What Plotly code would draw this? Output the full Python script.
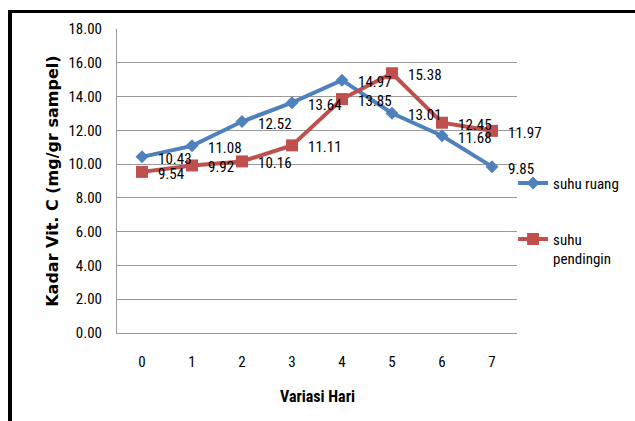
import plotly.graph_objects as go

# Vitamin C content per storage day
hari = ["0", "1", "2", "3", "4", "5", "6", "7"]
suhu_ruang = [10.43, 11.08, 12.52, 13.64, 14.97, 13.01, 11.68, 9.85]
suhu_pendingin = [9.54, 9.92, 10.16, 11.11, 13.85, 15.38, 12.45, 11.97]
y_ticks = [0, 2, 4, 6, 8, 10, 12, 14, 16, 18]

BLUE = "#4F81BD"
RED = "#C0504D"
GRID = "#9A9A9A"
NARROW = "Liberation Sans Narrow, Arial Narrow, Roboto Condensed, sans-serif"

fig = go.Figure()
fig.add_trace(go.Scatter(
    x=hari, y=suhu_ruang, name="suhu ruang", mode="lines+markers",
    line=dict(color=BLUE, width=4),
    marker=dict(symbol="diamond", size=10, color=BLUE),
    legend="legend",
))
fig.add_trace(go.Scatter(
    x=hari, y=suhu_pendingin, name="suhu<br>pendingin", mode="lines+markers",
    line=dict(color=RED, width=4),
    marker=dict(symbol="square", size=12, color=RED),
    legend="legend2",
))

# value labels to the right of each point
annotations = []
for series in (suhu_ruang, suhu_pendingin):
    for h, v in zip(hari, series):
        annotations.append(dict(
            x=h, y=v, xref="x", yref="y", text=f"{v:.2f}", showarrow=False,
            xanchor="left", yanchor="middle", xshift=14, yshift=-2,
            font=dict(family=NARROW, size=15, color="#000000"),
        ))

# axis titles
annotations.append(dict(
    x=-0.163, y=0.5, xref="paper", yref="paper", text="<b>Kadar Vit. C (mg/gr sampel)</b>",
    textangle=-90, showarrow=False, xanchor="center", yanchor="middle",
    font=dict(family="DejaVu Sans", size=16, color="#000000"),
))
annotations.append(dict(
    x=0.5, y=-0.21, xref="paper", yref="paper", text="<b>Variasi Hari</b>",
    showarrow=False, xanchor="center", yanchor="middle",
    font=dict(family=NARROW, size=16, color="#000000"),
))

# black frame on the left and top edges
shapes = [
    dict(type="rect", xref="paper", yref="paper", x0=-0.2725, x1=-0.2625, y0=-0.3, y1=1.0625,
         fillcolor="#000000", line=dict(width=0)),
    dict(type="rect", xref="paper", yref="paper", x0=-0.2725, x1=1.3, y0=1.0526, y1=1.0625,
         fillcolor="#000000", line=dict(width=0)),
]

legend_common = dict(
    xref="container", yref="container",
    xanchor="left", yanchor="middle", bgcolor="rgba(0,0,0,0)", borderwidth=0,
    font=dict(family=NARROW, size=15, color="#000000"), valign="top",
)

fig.update_layout(
    width=635, height=421,
    margin=dict(l=117, r=118, t=29, b=88, autoexpand=False),
    paper_bgcolor="#FFFFFF", plot_bgcolor="#FFFFFF",
    showlegend=True,
    legend=dict(x=0.808, y=0.565, **legend_common),
    legend2=dict(x=0.808, y=0.409, **legend_common),
    annotations=annotations,
    shapes=shapes,
    xaxis=dict(
        type="category", categoryorder="array", categoryarray=hari,
        range=[-0.5, 7.5], showgrid=False, zeroline=False,
        showline=True, linecolor=GRID, linewidth=1,
        ticks="outside", ticklen=15, tickcolor="rgba(0,0,0,0)",
        tickfont=dict(family=NARROW, size=15, color="#000000"),
    ),
    yaxis=dict(
        range=[0, 18], tickvals=y_ticks, tickformat=".2f",
        showgrid=True, gridcolor=GRID, gridwidth=1, zeroline=False,
        showline=True, linecolor=GRID, linewidth=1,
        ticks="outside", ticklen=11, tickcolor="rgba(0,0,0,0)",
        tickfont=dict(family=NARROW, size=15, color="#000000"),
    ),
)

fig.write_html("out.html")
